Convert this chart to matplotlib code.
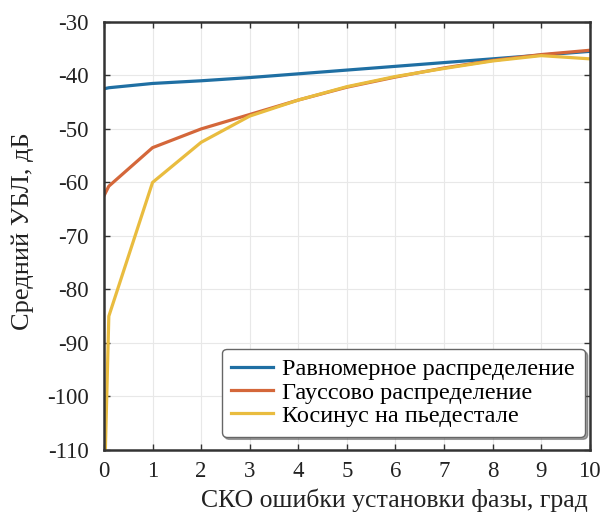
import matplotlib.pyplot as plt
import numpy as np

# СКО ошибки установки фазы, град
sko = [0, 0.1, 1, 2, 3, 4, 5, 6, 7, 8, 9, 10]

# средний УБЛ, дБ
ravnomernoe = [-42.5, -42.3, -41.5, -41.0, -40.4, -39.7, -39.0, -38.3, -37.6, -36.9, -36.2, -35.5]
gauss = [-62.5, -60.7, -53.5, -50.0, -47.3, -44.6, -42.2, -40.3, -38.6, -37.2, -36.1, -35.3]
kosinus = [-120.0, -85.0, -60.0, -52.5, -47.6, -44.6, -42.1, -40.2, -38.7, -37.3, -36.3, -36.9]

labels = ['Равномерное распределение', 'Гауссово распределение', 'Косинус на пьедестале']
colors = ['#1f6fa3', '#d4673a', '#e9bc3f']

plt.rcParams['font.family'] = ['Liberation Serif', 'DejaVu Serif']
plt.rcParams['axes.unicode_minus'] = False

fig = plt.figure(figsize=(6.08, 5.22), dpi=100)
ax = fig.add_axes([0.171, 0.138, 0.799, 0.82])

for serie, color, label in zip([ravnomernoe, gauss, kosinus], colors, labels):
    ax.plot(sko, serie, color=color, linewidth=2.3, label=label)

ax.set_xlim(0, 10)
ax.set_ylim(-110, -30)
ax.set_xticks(np.arange(0, 11, 1))
ax.set_yticks(np.arange(-110, -29, 10))
ax.grid(True, color='#e8e8e8', linewidth=0.8)
ax.tick_params(direction='in', top=True, right=True, labelsize=16.5,
               length=4, width=1, colors='#333333', labelcolor='#222222')
ax.tick_params(axis='y', pad=11)
ax.tick_params(axis='x', pad=8)
for side in ax.spines.values():
    side.set_linewidth(1.8)
    side.set_color('#333333')

ax.set_ylabel('Средний УБЛ, дБ', fontsize=19, color='#222222')
ax.yaxis.set_label_coords(-0.145, 0.51)
ax.set_xlabel('СКО ошибки установки фазы, град', fontsize=18.5, color='#222222', ha='left')
ax.xaxis.set_label_coords(0.2, -0.09)

leg = ax.legend(loc='lower right', fontsize=17.5, fancybox=True, shadow=True,
                handlelength=1.7, handletextpad=0.4, borderpad=0.4, labelspacing=0.05,
                borderaxespad=0.2, framealpha=1, edgecolor='#666666',
                bbox_to_anchor=(1.0, 0.02))

plt.savefig('out.png', dpi=100)
